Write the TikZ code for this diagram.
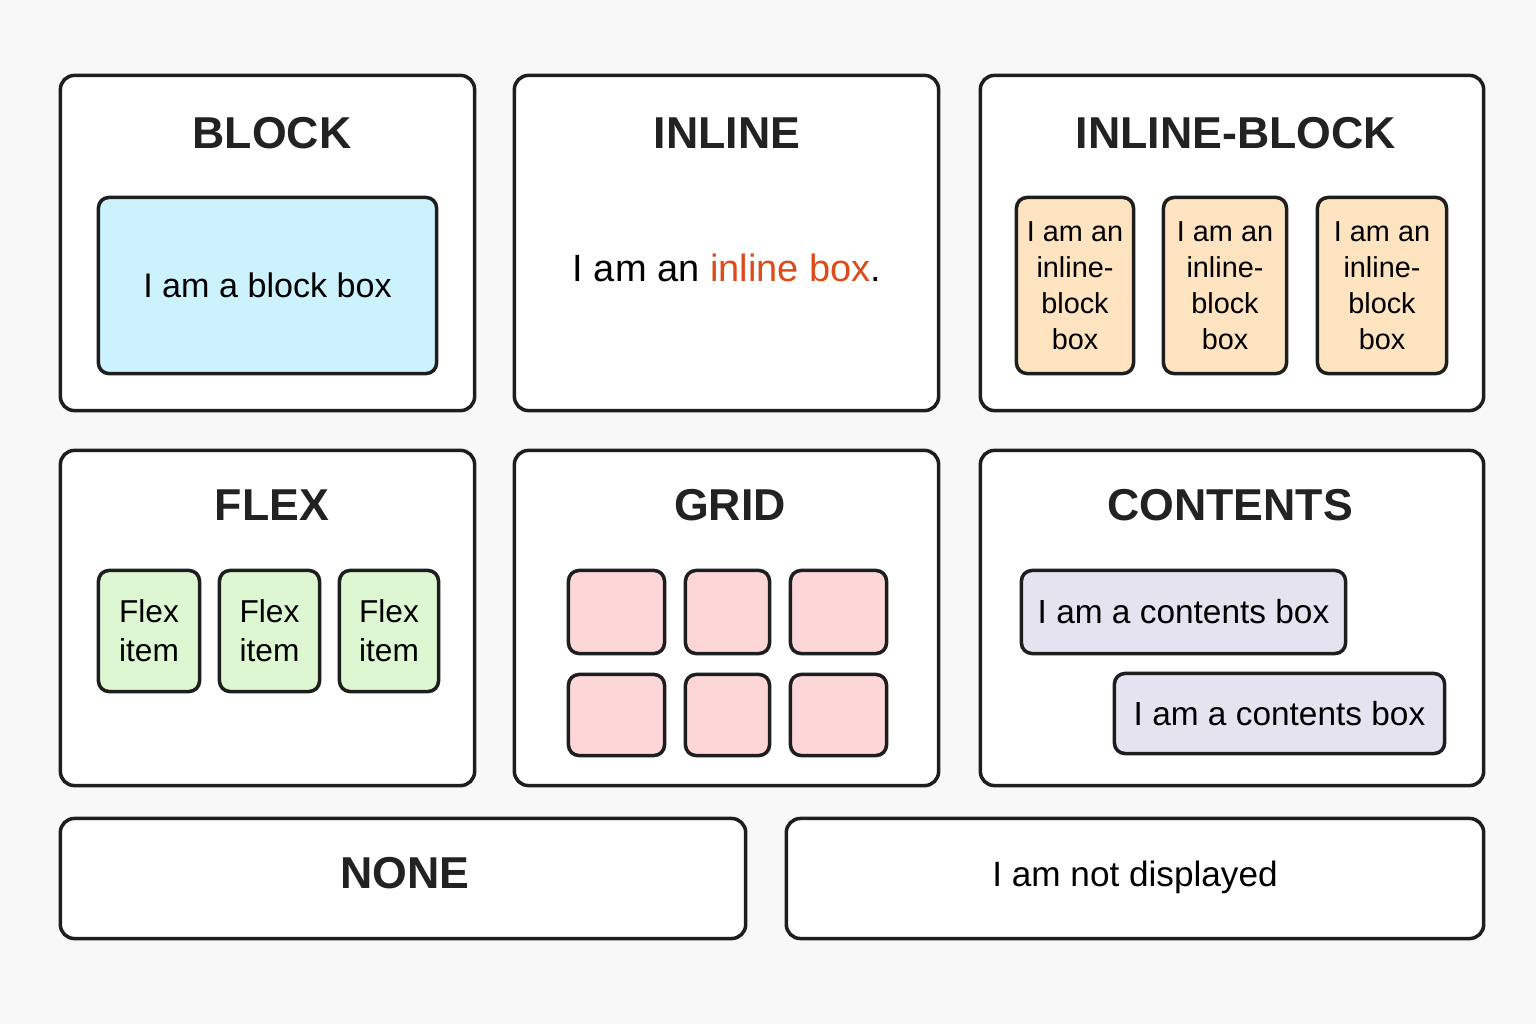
\documentclass[tikz,border=0pt]{standalone}
\usepackage{fontspec}
\setmainfont{Liberation Sans}
\definecolor{bggrey}{HTML}{F8F8F8}
\definecolor{linegrey}{HTML}{1E1E1E}
\definecolor{inkgrey}{HTML}{222222}
\definecolor{blockblue}{HTML}{CCF3FD}
\definecolor{iborange}{HTML}{FDE3C0}
\definecolor{flexgreen}{HTML}{DDF7D3}
\definecolor{gridpink}{HTML}{FDD6D8}
\definecolor{contlilac}{HTML}{E6E3F0}
\definecolor{inlinered}{HTML}{DD4B1A}

\begin{document}
\begin{tikzpicture}[x=0.01cm,y=-0.01cm,
    panel/.style={draw=linegrey,line width=1pt,fill=white,rounded corners=4pt,inner sep=0pt},
    inbox/.style={draw=linegrey,line width=1pt,rounded corners=3pt,inner sep=0pt,align=center,text=black},
    title/.style={font=\fontsize{12.7}{15}\selectfont\bfseries,text=inkgrey,inner sep=0pt},
    body/.style={font=\fontsize{10}{12}\selectfont,text=black,inner sep=0pt}]
                \useasboundingbox[fill=bggrey](0,0)rectangle(1536,1024);
                \node[panel,minimum width=4.14cm,minimum height=3.35cm](blockpanel)at(267.5, 243){};
                \node[panel,minimum width=4.24cm,minimum height=3.35cm](inlinepanel)at(726.5, 243){};
                \node[panel,minimum width=5.03cm,minimum height=3.35cm](ibpanel)at(1232, 243){};
                \node[panel,minimum width=4.14cm,minimum height=3.35cm](flexpanel)at(267.5, 618){};
                \node[panel,minimum width=4.24cm,minimum height=3.35cm](gridpanel)at(726.5, 618){};
                \node[panel,minimum width=5.03cm,minimum height=3.35cm](contentspanel)at(1232, 618){};
                \node[panel,minimum width=6.85cm,minimum height=1.20cm](nonepanel)at(403, 878.5){};
                \node[panel,minimum width=6.97cm,minimum height=1.20cm](hiddenpanel)at(1135, 878.5){};
                \node[title](blocktitle)at(272, 133){BLOCK};
                \node[title](inlinetitle)at(727, 133){INLINE};
                \node[title](ibtitle)at(1236, 133){INLINE-BLOCK};
                \node[title](flextitle)at(272, 505){FLEX};
                \node[title](gridtitle)at(730, 505){GRID};
                \node[title](contentstitle)at(1230, 505){CONTENTS};
                \node[title](nonetitle)at(405, 873){NONE};
                \node[inbox,fill=blockblue,minimum width=3.38cm,minimum height=1.76cm,font=\fontsize{9.7}{12}\selectfont](blockbox)at(267.5, 285.5){I am a block box};
                \node[body,font=\fontsize{10.8}{12}\selectfont](inlinetext)at(727, 268){I am an \textcolor{inlinered}{inline box}.};
                \node[inbox,fill=iborange,minimum width=1.17cm,minimum height=1.76cm,font=\fontsize{8.2}{10.2}\selectfont](ib1)at(1075, 285.5){I am an\\inline-\\block\\box};
                \node[inbox,fill=iborange,minimum width=1.23cm,minimum height=1.76cm,font=\fontsize{8.2}{10.2}\selectfont](ib2)at(1225, 285.5){I am an\\inline-\\block\\box};
                \node[inbox,fill=iborange,minimum width=1.29cm,minimum height=1.76cm,font=\fontsize{8.2}{10.2}\selectfont](ib3)at(1382, 285.5){I am an\\inline-\\block\\box};
                \node[inbox,fill=flexgreen,minimum width=1.01cm,minimum height=1.21cm,font=\fontsize{9}{11}\selectfont](flex1)at(149, 631){Flex\\item};
                \node[inbox,fill=flexgreen,minimum width=1.00cm,minimum height=1.21cm,font=\fontsize{9}{11}\selectfont](flex2)at(269.5, 631){Flex\\item};
                \node[inbox,fill=flexgreen,minimum width=0.99cm,minimum height=1.21cm,font=\fontsize{9}{11}\selectfont](flex3)at(389, 631){Flex\\item};
                \node[inbox,fill=gridpink,minimum width=0.96cm,minimum height=0.83cm](cell11)at(616.5, 612){};
                \node[inbox,fill=gridpink,minimum width=0.84cm,minimum height=0.83cm](cell12)at(727.5, 612){};
                \node[inbox,fill=gridpink,minimum width=0.96cm,minimum height=0.83cm](cell13)at(838.5, 612){};
                \node[inbox,fill=gridpink,minimum width=0.96cm,minimum height=0.81cm](cell21)at(616.5, 715){};
                \node[inbox,fill=gridpink,minimum width=0.84cm,minimum height=0.81cm](cell22)at(727.5, 715){};
                \node[inbox,fill=gridpink,minimum width=0.96cm,minimum height=0.81cm](cell23)at(838.5, 715){};
                \node[inbox,fill=contlilac,minimum width=3.24cm,minimum height=0.83cm,font=\fontsize{9.5}{11}\selectfont](cont1)at(1183.5, 612){I am a contents box};
                \node[inbox,fill=contlilac,minimum width=3.30cm,minimum height=0.80cm,font=\fontsize{9.5}{11}\selectfont](cont2)at(1279.5, 713.5){I am a contents box};
                \node[body](hiddentext)at(1135, 877){I am not displayed};
            \end{tikzpicture}
\end{document}
